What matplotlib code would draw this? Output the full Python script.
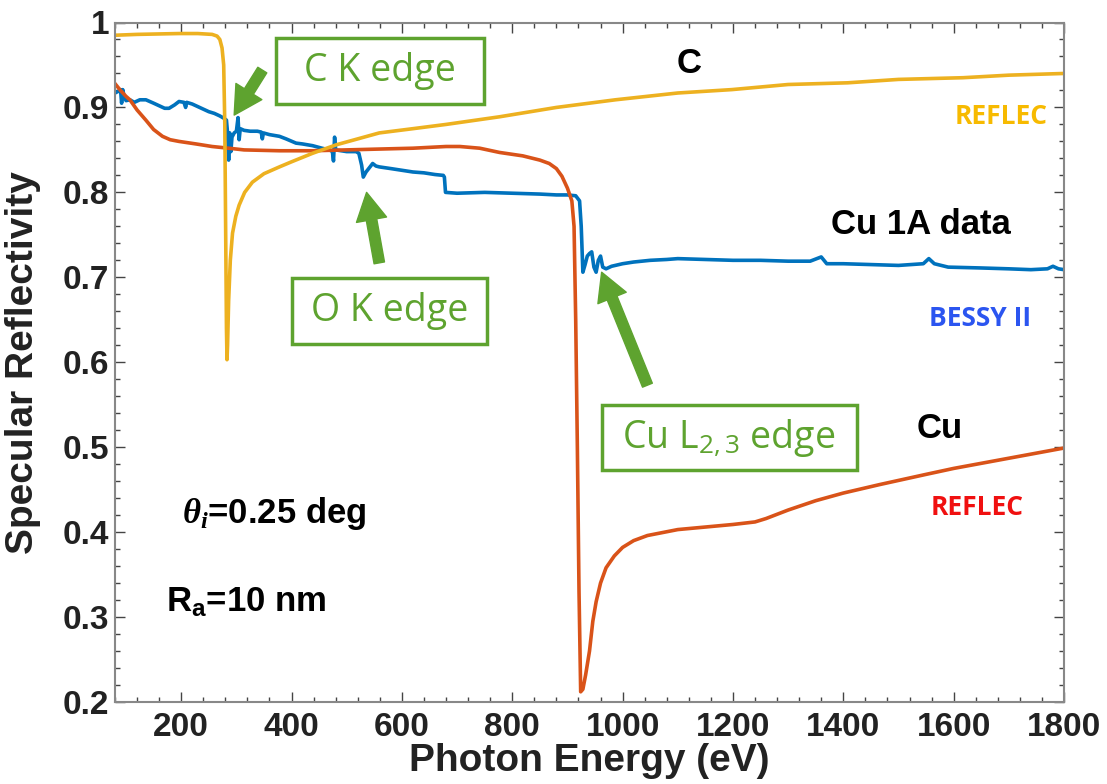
import matplotlib
matplotlib.use("Agg")
import matplotlib.pyplot as plt
from matplotlib.patches import Rectangle
from matplotlib.ticker import MultipleLocator, FormatStrFormatter

# Cu 1A data (BESSY II)
e_data = [80, 86, 90, 92, 94, 97, 100, 107, 115, 125, 136, 150, 160, 170, 178, 188, 196,
          205, 208, 210, 220, 230, 240, 250, 260, 270, 278, 282, 284, 286, 288, 290, 292,
          296, 300, 303, 305, 307, 314, 325, 338, 345, 347, 349, 360, 378, 390, 408, 420,
          438, 455, 469, 474, 476, 478, 480, 490, 500, 517, 522, 527, 530, 535, 541, 547,
          553, 559, 580, 600, 620, 640, 660, 675, 677, 679, 700, 750, 800, 850, 880, 900,
          915, 922, 925, 928, 932, 936, 940, 944, 948, 952, 956, 960, 964, 970, 980, 1000,
          1020, 1050, 1080, 1100, 1150, 1200, 1250, 1300, 1340, 1360, 1370, 1400, 1450,
          1500, 1545, 1555, 1565, 1590, 1650, 1700, 1740, 1770, 1780, 1790, 1800]
r_data = [0.917, 0.919, 0.921, 0.905, 0.921, 0.912, 0.908, 0.909, 0.906, 0.909, 0.909,
          0.905, 0.902, 0.899, 0.899, 0.903, 0.907, 0.906, 0.900, 0.906, 0.904, 0.901,
          0.898, 0.895, 0.893, 0.890, 0.887, 0.885, 0.870, 0.838, 0.870, 0.848, 0.865,
          0.870, 0.872, 0.888, 0.862, 0.875, 0.873, 0.872, 0.872, 0.871, 0.863, 0.870,
          0.868, 0.866, 0.863, 0.858, 0.857, 0.855, 0.852, 0.850, 0.848, 0.837, 0.865,
          0.850, 0.849, 0.848, 0.848, 0.846, 0.832, 0.818, 0.824, 0.829, 0.834, 0.831,
          0.830, 0.828, 0.826, 0.824, 0.823, 0.821, 0.820, 0.818, 0.800, 0.799, 0.800,
          0.799, 0.798, 0.797, 0.797, 0.796, 0.790, 0.760, 0.706, 0.715, 0.725, 0.728,
          0.730, 0.712, 0.706, 0.720, 0.725, 0.712, 0.710, 0.713, 0.716, 0.718, 0.720,
          0.721, 0.722, 0.721, 0.720, 0.720, 0.719, 0.719, 0.724, 0.716, 0.716, 0.715,
          0.714, 0.716, 0.722, 0.716, 0.712, 0.711, 0.710, 0.709, 0.710, 0.713, 0.710, 0.709]

# Cu, REFLEC
e_cu = [80, 90, 100, 107, 120, 136, 150, 166, 180, 196, 227, 256, 286, 314, 378, 438, 499,
        559, 620, 680, 705, 741, 777, 819, 850, 867, 880, 890, 900, 908, 912, 915, 918,
        921, 924, 928, 933, 940, 946, 952, 960, 970, 985, 1000, 1020, 1045, 1100, 1150,
        1200, 1240, 1260, 1300, 1350, 1400, 1466, 1550, 1600, 1700, 1800]
r_cu = [0.928, 0.920, 0.913, 0.909, 0.897, 0.885, 0.874, 0.866, 0.862, 0.860, 0.857,
        0.854, 0.852, 0.850, 0.849, 0.849, 0.850, 0.851, 0.852, 0.854, 0.854, 0.852,
        0.847, 0.843, 0.838, 0.834, 0.828, 0.819, 0.805, 0.790, 0.760, 0.650, 0.500,
        0.330, 0.212, 0.215, 0.232, 0.260, 0.295, 0.318, 0.340, 0.358, 0.372, 0.382,
        0.390, 0.396, 0.403, 0.406, 0.409, 0.412, 0.416, 0.426, 0.437, 0.446, 0.456,
        0.468, 0.475, 0.487, 0.499]

# C, REFLEC
e_c = [80, 120, 196, 230, 256, 265, 270, 274, 277, 279, 280.5, 282, 283, 284, 286, 289,
       293, 299, 305, 315, 329, 350, 378, 400, 438, 481, 520, 559, 620, 680, 777, 880,
       987, 1100, 1198, 1300, 1408, 1500, 1617, 1700, 1800]
r_c = [0.985, 0.986, 0.987, 0.987, 0.986, 0.984, 0.980, 0.970, 0.950, 0.880, 0.760,
       0.640, 0.603, 0.620, 0.673, 0.720, 0.752, 0.772, 0.785, 0.800, 0.812, 0.822,
       0.830, 0.836, 0.846, 0.856, 0.863, 0.870, 0.875, 0.880, 0.889, 0.900, 0.909,
       0.917, 0.921, 0.927, 0.929, 0.933, 0.935, 0.938, 0.940]

blue = "#0072BD"
orange = "#D95319"
yellow = "#EDB120"
green = "#5EA32F"

plt.rcParams["mathtext.fontset"] = "custom"
plt.rcParams["mathtext.rm"] = "Liberation Sans:bold"
plt.rcParams["mathtext.bf"] = "Liberation Sans:bold"
plt.rcParams["mathtext.it"] = "Liberation Serif:italic:bold"

fig = plt.figure(figsize=(11.07, 7.84), dpi=100)
ax = fig.add_axes([115 / 1107, 1 - 702 / 784, 949 / 1107, 679.5 / 784])

ax.plot(e_data, r_data, color=blue, lw=2.6)
ax.plot(e_cu, r_cu, color=orange, lw=2.6)
ax.plot(e_c, r_c, color=yellow, lw=2.6)

ax.set_xlim(80, 1800)
ax.set_ylim(0.2, 1.0)
ax.xaxis.set_major_locator(MultipleLocator(200))
ax.xaxis.set_minor_locator(MultipleLocator(40))
ax.yaxis.set_major_locator(MultipleLocator(0.1))
ax.yaxis.set_minor_locator(MultipleLocator(0.02))
ax.yaxis.set_major_formatter(FormatStrFormatter("%g"))

ax.tick_params(which="both", direction="in", top=True, right=True, color="#444444")
ax.tick_params(which="major", length=7, width=1.0)
ax.tick_params(which="minor", length=3.5, width=1.0)
ax.tick_params(axis="x", pad=7)
ax.tick_params(axis="y", pad=4)
for lab in ax.get_xticklabels() + ax.get_yticklabels():
    lab.set_fontfamily("Liberation Sans")
    lab.set_fontweight("bold")
    lab.set_fontsize(24)
    lab.set_color("#222222")
for sp in ax.spines.values():
    sp.set_color("#888888")
    sp.set_linewidth(1.5)

ax.set_xlabel("Photon Energy (eV)", fontfamily="Liberation Sans", fontweight="bold",
              fontsize=28, color="#222222")
ax.set_ylabel("Specular Reflectivity", fontfamily="Liberation Sans", fontweight="bold",
              fontsize=28, color="#222222")
ax.xaxis.set_label_coords(0.5, -0.06)
ax.yaxis.set_label_coords(-0.078, 0.5)

# edge boxes
boxes = [
    (372, 0.904, 376, 0.078, "C K edge", 560, 0.943),
    (401, 0.621, 354, 0.078, "O K edge", 578, 0.660),
    (962, 0.473, 462, 0.0765, "Cu L$_\\mathregular{2,3}$ edge", 1193, 0.511),
]
for x0, y0, w, h, txt, tx, ty in boxes:
    ax.add_patch(Rectangle((x0, y0), w, h, fill=True, fc="white", ec=green, lw=2.5, zorder=5))
    ax.text(tx, ty, txt, color=green, fontfamily="Open Sans", fontsize=27,
            ha="center", va="center", zorder=6)

arrows = [((296, 0.891), (347, 0.944)),
          ((536, 0.800), (559, 0.717)),
          ((962, 0.706), (1045, 0.573))]
for tip, tail in arrows:
    ax.annotate("", xy=tip, xytext=tail,
                arrowprops=dict(arrowstyle="simple,head_length=1.0,head_width=1.1,tail_width=0.38",
                                color=green, shrinkA=0, shrinkB=0, mutation_scale=20),
                zorder=6)

bold = dict(fontfamily="Liberation Sans", fontweight="bold", ha="center", va="center")
ax.text(1120, 0.952, "C", fontsize=25, color="black", **bold)
ax.text(1540, 0.762, "Cu 1A data", fontsize=25, color="black", **bold)
ax.text(1575, 0.522, "Cu", fontsize=25, color="black", **bold)
ax.text(369, 0.422, "$\\theta_i$=0.25 deg", fontsize=25, color="black", **bold)
ax.text(318, 0.317, "R$_\\mathregular{a}$=10 nm", fontsize=25, color="black", **bold)

small = dict(fontfamily="Open Sans", fontweight="bold", ha="center", va="center", fontsize=19)
ax.text(1686, 0.889, "REFLEC", color="#F7BA00", **small)
ax.text(1647, 0.652, "BESSY II", color="#2B55F0", **small)
ax.text(1642, 0.429, "REFLEC", color="#F01010", **small)

fig.savefig("out.png", dpi=100)
